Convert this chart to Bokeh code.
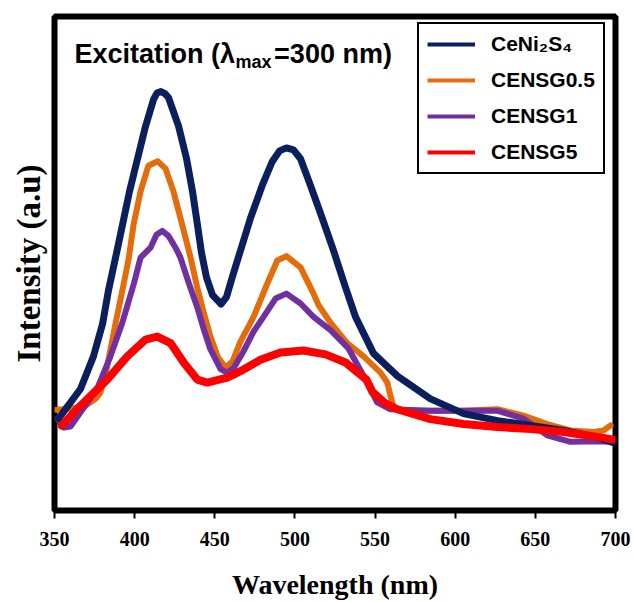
from bokeh.plotting import figure
from bokeh.models import FixedTicker, Legend, LegendItem
from bokeh.embed import file_html
from bokeh.resources import INLINE
from bokeh.core.properties import value

# ---------------- data ----------------
x_ticks = [350, 400, 450, 500, 550, 600, 650, 700]

wl_ceni2s4 = [352.5, 366.2, 374.3, 380.0, 383.7, 388.1, 392.4, 396.8, 401.8, 406.8,
              411.8, 413.9, 416.4, 418.9, 421.1, 427.4, 432.4, 436.1, 439.2, 441.7,
              444.8, 448.6, 453.9, 457.3, 460.9, 466.0, 472.3, 479.6, 485.8, 490.4,
              494.7, 499.1, 503.5, 509.7, 517.0, 524.1, 530.9, 537.8, 549.0, 564.0,
              584.6, 605.2, 626.4, 647.0, 667.6, 688.8, 698.1]
int_ceni2s4 = [18.6, 24.6, 31.2, 37.8, 44.6, 51.2, 57.8, 64.6, 71.2, 77.8,
               83.2, 84.5, 84.8, 84.4, 83.6, 77.8, 71.2, 64.6, 57.8, 52.2,
               47.2, 43.6, 41.8, 43.2, 47.2, 52.6, 59.2, 65.8, 70.6, 72.8,
               73.4, 73.0, 71.2, 65.8, 59.2, 52.6, 45.8, 39.2, 31.8, 27.2,
               22.6, 19.6, 18.2, 17.2, 16.2, 14.8, 13.8]

wl_censg05 = [351.2, 360.0, 369.3, 375.6, 378.7, 382.9, 388.1, 393.2, 396.4, 399.3,
              403.7, 408.6, 414.4, 419.3, 424.2, 429.7, 434.9, 439.0, 443.0, 447.3,
              451.7, 456.7, 461.1, 466.0, 474.2, 482.7, 489.0, 494.7, 503.5, 511.6,
              514.7, 522.2, 532.6, 542.8, 553.4, 557.6, 559.6, 561.5, 565.9, 574.0,
              605.2, 626.2, 642.6, 657.4, 671.9, 686.3, 692.5, 696.9]
int_censg05 = [20.4, 20.6, 21.2, 22.6, 23.9, 29.2, 37.9, 45.9, 51.2, 57.8,
               64.6, 69.8, 70.7, 69.2, 64.6, 57.8, 51.2, 45.2, 40.2, 35.2,
               31.2, 28.9, 30.2, 34.2, 39.2, 45.9, 50.6, 51.5, 49.2, 43.9,
               41.6, 38.0, 33.9, 31.2, 27.9, 25.9, 23.2, 20.9, 20.4, 20.2,
               20.2, 20.5, 19.2, 17.5, 16.2, 15.9, 16.2, 17.2]

wl_censg1 = [351.7, 355.8, 360.0, 366.2, 376.6, 384.9, 392.2, 399.5, 403.7, 409.9,
             413.6, 417.2, 421.1, 425.5, 428.6, 433.6, 439.0, 443.0, 447.3, 453.6,
             457.7, 461.7, 467.9, 474.2, 480.4, 487.9, 494.7, 503.5, 511.6, 522.2,
             533.4, 545.1, 551.3, 559.6, 584.6, 626.2, 642.6, 657.4, 671.9, 688.6,
             698.0]
int_censg1 = [18.6, 16.8, 17.0, 19.9, 24.6, 31.2, 37.9, 45.9, 51.2, 53.2,
              55.8, 56.6, 55.6, 53.2, 51.2, 46.2, 41.2, 36.8, 32.6, 28.6,
              27.9, 28.8, 32.2, 36.2, 39.2, 42.9, 43.9, 41.9, 39.2, 36.5,
              32.8, 25.9, 21.9, 20.5, 20.2, 20.2, 18.6, 15.2, 13.9, 14.0,
              13.9]

wl_censg5 = [354.5, 366.2, 382.9, 395.4, 406.8, 414.1, 422.4, 430.7, 439.1, 445.3,
             457.8, 466.0, 478.5, 491.0, 505.2, 519.1, 531.9, 544.6, 548.4, 555.9,
             563.8, 584.6, 605.2, 626.2, 647.0, 667.6, 688.6, 698.0]
int_censg5 = [17.2, 21.2, 26.5, 31.2, 34.6, 35.2, 33.9, 29.9, 26.5, 25.9,
              26.9, 28.2, 30.5, 32.0, 32.4, 31.6, 29.9, 26.5, 24.0, 21.8,
              20.5, 18.5, 17.5, 16.9, 16.5, 15.9, 14.9, 14.4]

series_names = ["CeNi\u2082S\u2084", "CENSG0.5", "CENSG1", "CENSG5"]
series_colors = ["#0a1f5c", "#e46c0a", "#7030a0", "#ff0000"]

# ---------------- figure ----------------
p = figure(width=634, height=602, x_range=(350, 700), y_range=(0, 100),
           output_backend="svg", toolbar_location=None,
           min_border_left=54, min_border_right=19,
           min_border_top=16, min_border_bottom=86)
p.background_fill_color = "white"
p.border_fill_color = "white"
p.outline_line_color = "black"
p.outline_line_width = 6
p.outline_line_alpha = 1.0
p.grid.visible = False

# x axis
p.xaxis.ticker = FixedTicker(ticks=x_ticks)
p.xaxis.axis_line_color = None
p.xaxis.major_tick_out = 8
p.xaxis.major_tick_in = 0
p.xaxis.major_tick_line_width = 2
p.xaxis.major_tick_line_color = "black"
p.xaxis.minor_tick_line_color = None
p.xaxis.major_label_text_font = "Liberation Serif"
p.xaxis.major_label_text_font_style = "bold"
p.xaxis.major_label_text_font_size = "20px"
p.xaxis.major_label_text_color = "black"
p.xaxis.major_label_standoff = 13
p.xaxis.axis_label = "Wavelength (nm)"
p.xaxis.axis_label_text_font = "Liberation Serif"
p.xaxis.axis_label_text_font_style = "bold"
p.xaxis.axis_label_text_font_size = "28px"
p.xaxis.axis_label_text_color = "black"
p.xaxis.axis_label_standoff = 20

# y axis
p.yaxis.ticker = FixedTicker(ticks=[])
p.yaxis.axis_line_color = None
p.yaxis.major_tick_line_color = None
p.yaxis.minor_tick_line_color = None
p.yaxis.major_tick_out = 0
p.yaxis.axis_label = "Intensity (a.u)"
p.yaxis.axis_label_text_font = "Liberation Serif"
p.yaxis.axis_label_text_font_style = "bold"
p.yaxis.axis_label_text_font_size = "33px"
p.yaxis.axis_label_text_color = "black"
p.yaxis.axis_label_standoff = 8

# curves (drawing order: orange, purple, navy, red)
p.line(wl_censg05, int_censg05, line_color=series_colors[1], line_width=6, line_join="round", line_cap="round")
p.line(wl_censg1, int_censg1, line_color=series_colors[2], line_width=6, line_join="round", line_cap="round")
p.line(wl_ceni2s4, int_ceni2s4, line_color=series_colors[0], line_width=7, line_join="round", line_cap="round")
p.line(wl_censg5, int_censg5, line_color=series_colors[3], line_width=8, line_join="round", line_cap="round")

# legend (thin sample lines like the reference; these renderers hold no visible data)
nan = float("nan")
items = []
for name, col in zip(series_names, series_colors):
    r = p.line([nan], [nan], line_color=col, line_width=4)
    items.append(LegendItem(label=name, renderers=[r]))
legend = Legend(items=items, location=(363, 336))
legend.border_line_color = "black"
legend.border_line_width = 2
legend.border_line_alpha = 1.0
legend.background_fill_color = "white"
legend.background_fill_alpha = 1.0
legend.label_text_font = "Liberation Sans"
legend.label_text_font_style = "bold"
legend.label_text_font_size = "21px"
legend.label_text_color = "black"
legend.glyph_width = 48
legend.glyph_height = 22
legend.label_height = 22
legend.label_standoff = 16
legend.spacing = 12
legend.padding = 8
legend.margin = 0
p.add_layout(legend)

# title inside the plot: Excitation (λ_max=300 nm)
title_font = value("Liberation Sans")
p.text(x=[362.5], y=[92.4], text=["Excitation (\u03bb"], text_font=title_font,
       text_font_style="bold", text_font_size="27px", text_baseline="alphabetic",
       text_align="left", text_color="black")
p.text(x=[462.9], y=[90.8], text=["max"], text_font=title_font,
       text_font_style="bold", text_font_size="18px", text_baseline="alphabetic",
       text_align="left", text_color="black")
p.text(x=[487.0], y=[92.4], text=["=300 nm)"], text_font=title_font,
       text_font_style="bold", text_font_size="27px", text_baseline="alphabetic",
       text_align="left", text_color="black")

open("out.html", "w").write(file_html(p, INLINE))
